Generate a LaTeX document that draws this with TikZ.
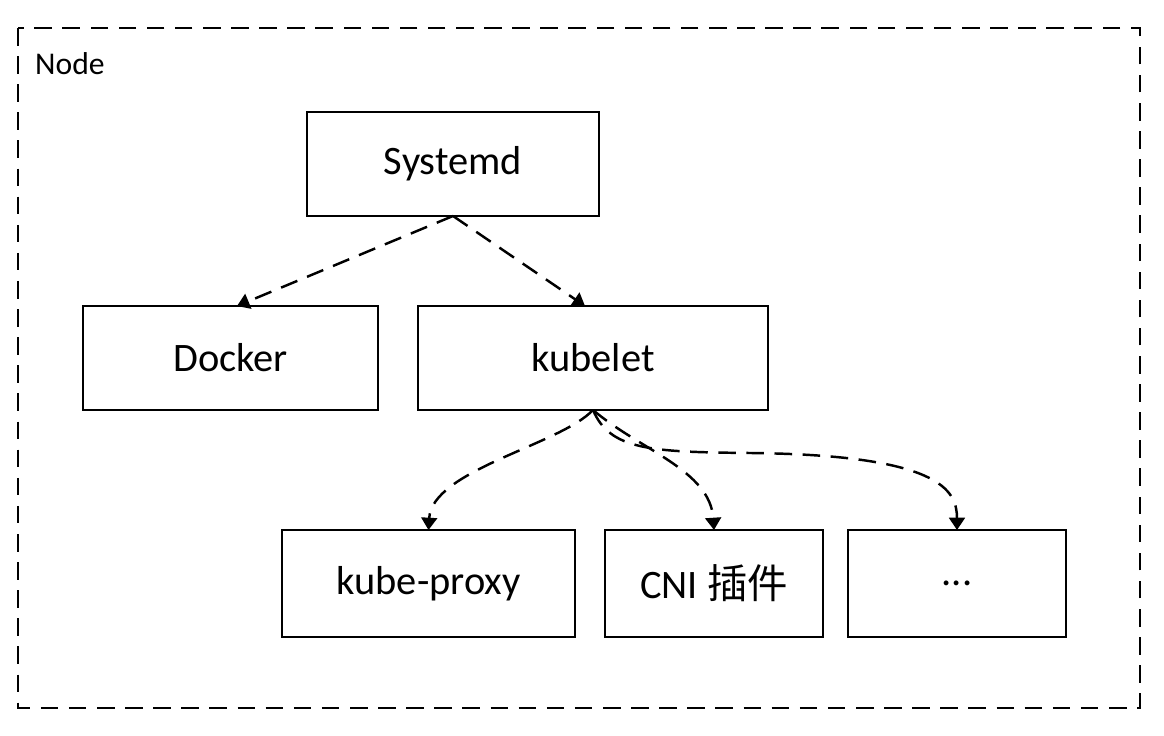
\documentclass[tikz,border=0pt]{standalone}
\usepackage{fontspec}
\setmainfont{Carlito}
\newfontfamily\cjk{Noto Sans CJK SC}
\usetikzlibrary{arrows.meta}
\tikzstyle{module}=[draw, line width=1.4pt, inner sep=0pt, outer sep=0pt, minimum height=2.08cm, font=\fontsize{23}{28}\selectfont]
\tikzstyle{link}=[line width=1.4pt, dash pattern=on 10pt off 6pt, -{Triangle[width=9pt,length=7pt]}]
\tikzstyle{frame}=[line width=1.4pt, dash pattern=on 10pt off 6pt]

\begin{document}
\begin{tikzpicture}[x=0.02cm, y=-0.02cm]
      \useasboundingbox (0, 0) rectangle (1164, 736);
      \draw[frame] (18, 28) rectangle (1140, 708);
      \node[anchor=west, font=\fontsize{18}{22}\selectfont] (title) at (29, 64) {Node};
      \node[module, minimum width=5.84cm] (systemd) at (453, 164) {Systemd};
      \node[module, minimum width=5.9cm] (docker) at (230.5, 358) {Docker};
      \node[module, minimum width=7cm] (kubelet) at (593, 358) {kubelet};
      \node[module, minimum width=5.86cm, minimum height=2.14cm] (proxy) at (428.5, 583.5) {kube-proxy};
      \node[module, minimum width=4.36cm, minimum height=2.14cm] (cni) at (714, 583.5) {CNI {\cjk 插件}};
      \node[module, minimum width=4.36cm, minimum height=2.14cm] (more) at (957, 583.5) {\raisebox{-0.1em}{...}};
      \draw[link] (systemd.south) -- ([xshift=0.13cm]docker.north);
      \draw[link] (systemd.south) -- ([xshift=-0.16cm]kubelet.north);
      \draw[link] (kubelet.south)
        .. controls (560, 445) and (432, 470) .. (proxy.north);
      \draw[link] (kubelet.south)
        .. controls (640, 450) and (710, 470) .. (cni.north);
      \draw[link] (kubelet.south)
        .. controls (610, 450) and (650, 452) .. (750, 453)
        .. controls (940, 455) and (957, 490) .. (more.north);
    \end{tikzpicture}
\end{document}
